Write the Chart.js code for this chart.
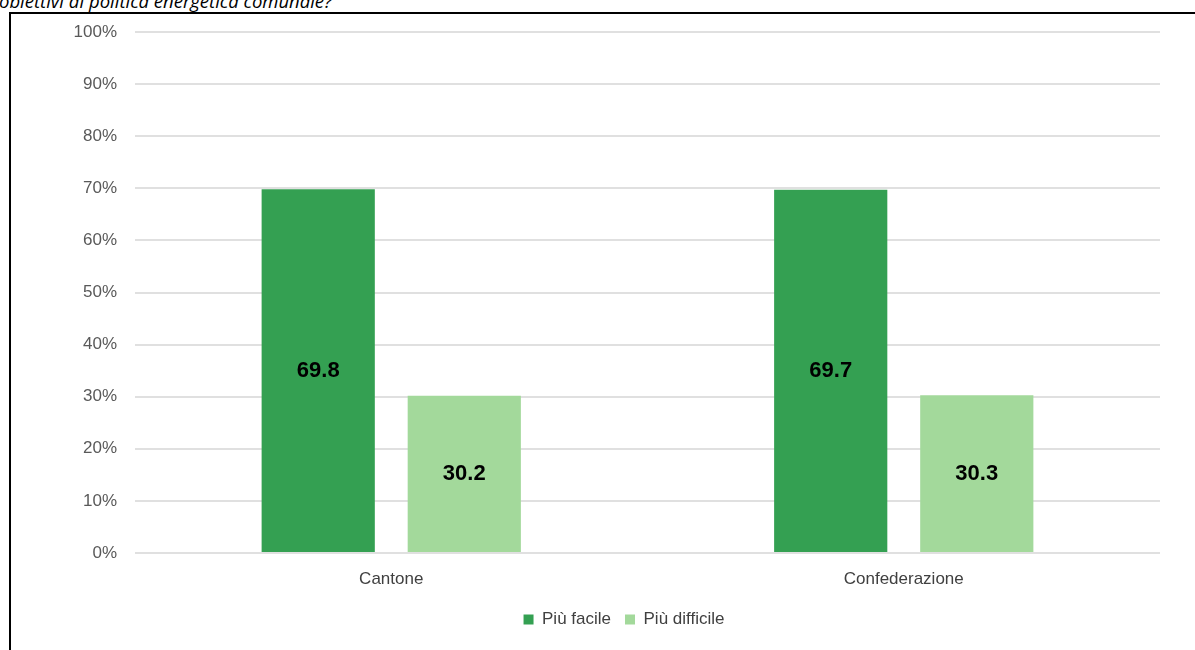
<!DOCTYPE html>
<html lang="it">
<head>
<meta charset="utf-8">
<title>Politica energetica comunale</title>
<script src="https://cdn.jsdelivr.net/npm/chart.js@4/dist/chart.umd.min.js"></script>
<style>
    html, body { margin: 0; padding: 0; background: #fff; overflow: hidden; }
    #wrap { position: relative; width: 1195px; height: 650px; }
    #question {
        position: absolute; left: -1px; top: -8px;
        font: italic 18.5px/17px 'Open Sans', sans-serif; color: #000;
        white-space: nowrap;
    }
    #frame {
        position: absolute; left: 9px; top: 12px; width: 1300px; height: 700px;
        border-left: 2px solid #000; border-top: 2px solid #000;
    }
    #chartBox { position: absolute; left: 0; top: 0; width: 1195px; height: 650px; }
</style>
</head>
<body>
<div id="wrap">
    <div id="question">obiettivi di politica energetica comunale?</div>
    <div id="frame"></div>
    <div id="chartBox"><canvas id="chart"></canvas></div>
</div>
<script>
// Dati del grafico
var categorie = ['Cantone', 'Confederazione'];
var serie = ['Più facile', 'Più difficile'];
var piuFacile = [69.8, 69.7];
var piuDifficile = [30.2, 30.3];
var yTicks = [0, 10, 20, 30, 40, 50, 60, 70, 80, 90, 100];

var VERDE = '#34a052';
var VERDE_CHIARO = '#a3d99b';
var FONT = "'Liberation Sans', Arial, sans-serif";

// Etichette del valore al centro di ogni barra
var barLabels = {
    id: 'barLabels',
    afterDatasetsDraw: function (chart) {
        var ctx = chart.ctx;
        ctx.save();
        ctx.font = 'bold 22px ' + FONT;
        ctx.fillStyle = '#000';
        ctx.textAlign = 'center';
        ctx.textBaseline = 'middle';
        chart.data.datasets.forEach(function (ds, i) {
            chart.getDatasetMeta(i).data.forEach(function (bar, j) {
                var p = bar.getProps(['x', 'y', 'base'], true);
                ctx.fillText(ds.data[j].toFixed(1), p.x, (p.y + p.base) / 2);
            });
        });
        ctx.restore();
    }
};

// Sposta la legenda un po' a destra, centrata sotto l'area dei dati
var legendShift = {
    id: 'legendShift',
    afterLayout: function (chart) {
        var lg = chart.legend;
        if (!lg) return;
        lg.left += 44;
        lg.right += 44;
    }
};

new Chart(document.getElementById('chart'), {
    type: 'bar',
    data: {
        labels: categorie,
        datasets: [{
            label: serie[0],
            data: piuFacile,
            backgroundColor: VERDE
        }, {
            label: serie[1],
            data: piuDifficile,
            backgroundColor: VERDE_CHIARO
        }]
    },
    options: {
        responsive: true,
        maintainAspectRatio: false,
        animation: false,
        categoryPercentage: 0.57,
        barPercentage: 0.775,
        layout: { padding: { left: 0, right: 35, top: 32, bottom: 12 } },
        plugins: {
            tooltip: { enabled: false },
            legend: {
                position: 'bottom',
                labels: {
                    boxWidth: 10,
                    boxHeight: 10,
                    padding: 14,
                    color: '#404040',
                    font: { family: FONT, size: 17 }
                }
            }
        },
        scales: {
            x: {
                afterFit: function (scale) { scale.height = 44; },
                grid: { display: false, drawTicks: false },
                border: { display: false },
                ticks: { color: '#404040', padding: 16, font: { family: FONT, size: 17 } }
            },
            y: {
                min: 0,
                max: 100,
                afterBuildTicks: function (scale) {
                    scale.ticks = yTicks.map(function (v) { return { value: v }; });
                },
                afterFit: function (scale) { scale.width = 135; },
                grid: { color: '#e0e0e0', lineWidth: 2, drawTicks: false },
                border: { display: false },
                ticks: {
                    color: '#595959',
                    padding: 18,
                    font: { family: FONT, size: 17 },
                    callback: function (v) { return v + '%'; }
                }
            }
        }
    },
    plugins: [barLabels, legendShift]
});
</script>
</body>
</html>
